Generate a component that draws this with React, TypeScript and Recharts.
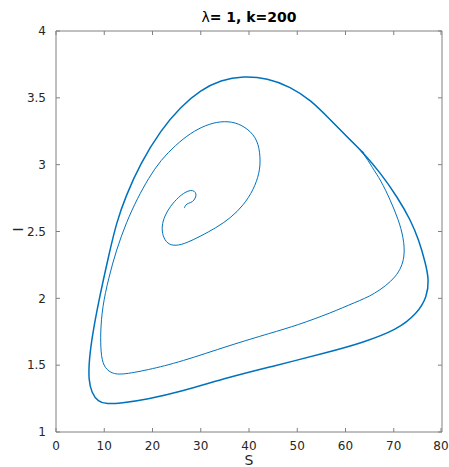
import { LineChart, Line, XAxis, YAxis, ReferenceLine } from "recharts";

// trajectory: spiral from the start point out to the limit cycle
const spiralS = [
  26.6, 26.8, 27.5, 28.3, 28.9, 29.1, 28.7, 27.9, 26.8, 25.4, 23.7, 22.5, 21.9, 22.1, 23.1,
  24.8, 27.1, 30.0, 33.1, 36.2, 38.9, 40.9, 42.2, 42.4, 41.8, 39.9, 37.2, 34.1, 31.0, 27.9,
  24.8, 21.7, 19.2, 16.9, 14.6, 12.5, 10.9, 9.6, 9.2, 9.3, 9.8, 11.3, 13.4, 19.0, 25.8, 36.2,
  44.5, 50.1, 56.9, 62.1, 65.8, 70.8, 72.4, 72.0, 71.0, 69.3, 67.3, 65.6, 63.8, 61.0, 56.9,
];
const spiralI = [
  2.675, 2.698, 2.713, 2.72, 2.75, 2.78, 2.803, 2.81, 2.795, 2.758, 2.69, 2.616, 2.541, 2.466, 2.406,
  2.391, 2.414, 2.466, 2.526, 2.601, 2.698, 2.81, 2.937, 3.057, 3.184, 3.266, 3.319, 3.326, 3.296, 3.237,
  3.147, 3.034, 2.9, 2.75, 2.571, 2.361, 2.152, 1.935, 1.74, 1.591, 1.494, 1.441, 1.426, 1.464, 1.524, 1.651,
  1.74, 1.8, 1.89, 1.972, 2.025, 2.159, 2.309, 2.458, 2.586, 2.735, 2.885, 2.975, 3.085, 3.184, 3.334,
];

// limit cycle (outer loop)
const cycleS = [
  63.8, 61.0, 56.9, 52.8, 48.6, 43.8, 38.9, 34.1, 30.0, 25.8, 21.7, 17.5, 14.4, 12.5, 11.2,
  10.4, 8.9, 7.6, 6.85, 6.75, 7.4, 8.7, 10.5, 13.4, 18.9, 25.8, 36.2, 44.5, 56.9, 63.1, 70.7,
  74.9, 76.9, 77.3, 76.6, 75.2, 73.5, 70.7, 67.3, 63.8, 61.0,
];
const cycleI = [
  3.085, 3.184, 3.334, 3.483, 3.583, 3.646, 3.663, 3.633, 3.558, 3.433, 3.257, 3.01, 2.76, 2.561, 2.361,
  2.234, 1.987, 1.74, 1.539, 1.389, 1.292, 1.227, 1.209, 1.215, 1.245, 1.301, 1.414, 1.488, 1.601, 1.663, 1.763,
  1.888, 2.012, 2.137, 2.262, 2.436, 2.586, 2.76, 2.935, 3.085, 3.184,
];

const sTicks = [0, 10, 20, 30, 40, 50, 60, 70, 80];
const iTicks = [1, 1.5, 2, 2.5, 3, 3.5, 4];

const spiral = spiralS.map((s, i) => ({ S: s, I: spiralI[i] }));
const cycle = cycleS.map((s, i) => ({ S: s, I: cycleI[i] }));

const font = "DejaVu Sans";
const axisColor = "#808080";
const textColor = "#262626";
const blue = "#0072BD";
const plotW = 386;
const plotH = 401;
const tickLen = 4;

// MATLAB-style ticks: pointing inward, repeated on the opposite side of the box
function BottomTick(props: any) {
  const { x, y, payload } = props;
  const axisY = y - 9;
  return (
    <g>
      <line x1={x} x2={x} y1={axisY} y2={axisY - tickLen} stroke={axisColor} />
      <line x1={x} x2={x} y1={axisY - plotH} y2={axisY - plotH + tickLen} stroke={axisColor} />
      <text x={x} y={y} dy="0.71em" textAnchor="middle" fill={textColor} fontSize={12} fontFamily={font}>
        {payload.value}
      </text>
    </g>
  );
}

function LeftTick(props: any) {
  const { x, y, payload } = props;
  const axisX = x + 10;
  return (
    <g>
      <line x1={axisX} x2={axisX + tickLen} y1={y} y2={y} stroke={axisColor} />
      <line x1={axisX + plotW} x2={axisX + plotW - tickLen} y1={y} y2={y} stroke={axisColor} />
      <text x={x} y={y} dy="0.355em" textAnchor="end" fill={textColor} fontSize={12} fontFamily={font}>
        {payload.value}
      </text>
    </g>
  );
}

export default function App() {
  return (
    <div style={{ position: "absolute", left: 0, top: 0, width: 449, height: 467, background: "#fff" }}>
      <div
        style={{
          position: "absolute",
          top: 9,
          left: 56,
          width: plotW,
          textAlign: "center",
          fontFamily: font,
          fontSize: 14,
          lineHeight: "16px",
          fontWeight: "bold",
          color: "#000",
        }}
      >
        <span style={{ fontWeight: "normal" }}>λ</span>= 1, k=200
      </div>
      <LineChart width={449} height={467} margin={{ top: 31, right: 7, bottom: 0, left: 0 }}>
        <XAxis
          xAxisId="b"
          dataKey="S"
          type="number"
          domain={[0, 80]}
          ticks={sTicks}
          height={35}
          tickSize={0}
          tickMargin={9}
          tickLine={false}
          stroke={axisColor}
          tick={<BottomTick />}
          label={{ value: "S", position: "insideBottom", offset: 2, fill: textColor, fontSize: 14, fontFamily: font }}
        />
        <YAxis
          yAxisId="l"
          type="number"
          domain={[1, 4]}
          ticks={iTicks}
          width={56}
          tickSize={0}
          tickMargin={10}
          tickLine={false}
          stroke={axisColor}
          tick={<LeftTick />}
          label={{ value: "I", angle: -90, position: "insideLeft", offset: 18, fill: textColor, fontSize: 14, fontFamily: font }}
        />
        <ReferenceLine xAxisId="b" yAxisId="l" y={4} stroke={axisColor} />
        <ReferenceLine xAxisId="b" yAxisId="l" x={80} stroke={axisColor} />
        <Line
          xAxisId="b"
          yAxisId="l"
          data={spiral}
          dataKey="I"
          type="basis"
          stroke={blue}
          strokeWidth={1}
          dot={false}
          isAnimationActive={false}
        />
        <Line
          xAxisId="b"
          yAxisId="l"
          data={cycle}
          dataKey="I"
          type="basis"
          stroke={blue}
          strokeWidth={1.5}
          dot={false}
          isAnimationActive={false}
        />
      </LineChart>
    </div>
  );
}
